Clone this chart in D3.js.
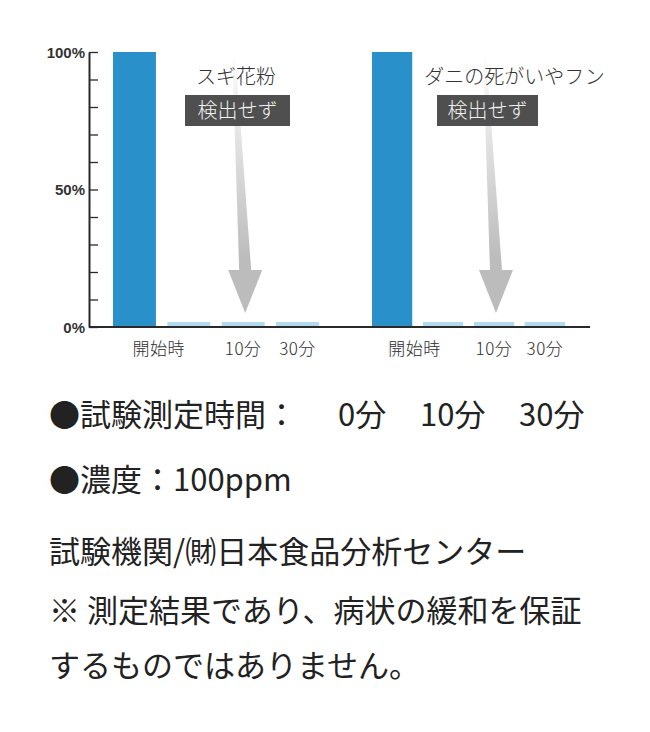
<!DOCTYPE html>
<html><head><meta charset="utf-8">
<script src="https://cdn.jsdelivr.net/npm/d3@7"></script>
<style>
html,body{margin:0;padding:0;background:#fff;}
svg{display:block;}
</style></head>
<body>
<div id="chart"></div>
<script>
// ---- data ----
const barKeys = ["開始時", "0分", "10分", "30分"];
const categoryLabels = ["開始時", "10分", "30分"];
const labelGroups = [["開始時", "0分"], ["10分"], ["30分"]];
const panelTitles = ["スギ花粉", "ダニの死がいやフン"];
const pollenValues = [100, 1.8, 1.8, 1.8];
const miteValues = [100, 1.8, 1.8, 1.8];
const panelValues = [pollenValues, miteValues];
const badgeText = "検出せず";
const yTickValues = [0, 10, 20, 30, 40, 50, 60, 70, 80, 90, 100];
const yTickLabels = ["0%", "50%", "100%"];
const noteLines = [
  "●試験測定時間：",
  "●濃度：100ppm",
  "試験機関/㈶日本食品分析センター",
  "※ 測定結果であり、病状の緩和を保証",
  "するものではありません。"
];
const timeLabels = ["0分", "10分", "30分"];

// ---- layout ----
const W = 650, H = 732;
const svg = d3.select("#chart").append("svg").attr("width", W).attr("height", H);
const JP = "'Noto Sans CJK JP','Noto Sans',sans-serif";

const y = d3.scaleLinear().domain([0, 100]).range([327, 52]);
const panelRanges = [[113, 319], [372, 565]];
const titleX = [236, 514.5];
const badgeBox = [[185, 290], [437, 538]];

const defs = svg.append("defs");
const grad = defs.append("linearGradient").attr("id", "arrowGrad")
  .attr("gradientUnits", "userSpaceOnUse").attr("x1", 0).attr("x2", 0)
  .attr("y1", y(100)).attr("y2", y(25));
grad.append("stop").attr("offset", 0).attr("stop-color", "#ffffff");
grad.append("stop").attr("offset", 1).attr("stop-color", "#bcbcbc");

panelValues.forEach((vals, p) => {
  const x = d3.scaleBand().domain(barKeys).range(panelRanges[p]).paddingInner(0.21).paddingOuter(0);
  const g = svg.append("g");

  // arrow (behind)
  const tx = x("10分") + x.bandwidth() / 2 + 2;
  const ty = y(0) - 14;
  const headY = ty - 43;
  const topY = y(100);
  const arrowPts = [
    [tx - 13, topY], [tx - 10, topY], [tx + 6, headY], [tx + 17, headY],
    [tx, ty], [tx - 17, headY], [tx - 6, headY]
  ];
  g.append("path").attr("d", d3.line()(arrowPts) + "Z").attr("fill", "url(#arrowGrad)");

  // bars
  g.selectAll("rect.bar").data(vals).join("rect").attr("class", "bar")
    .attr("x", (d, i) => x(barKeys[i]))
    .attr("width", x.bandwidth())
    .attr("y", d => y(d))
    .attr("height", d => y(0) - y(d))
    .attr("fill", (d, i) => i === 0 ? "#2990ca" : "#b2daee");

  // category labels
  g.selectAll("text.cat").data(categoryLabels).join("text").attr("class", "cat")
    .attr("x", (d, i) => d3.mean(labelGroups[i], k => x(k) + x.bandwidth() / 2) - (i === 0 ? 3 : 0))
    .attr("y", 354.5)
    .attr("text-anchor", "middle")
    .attr("font-family", JP).attr("font-size", 17).attr("font-weight", 300)
    .attr("letter-spacing", 0.5)
    .attr("fill", "#2e2e2e").text(d => d);

  // title
  g.append("text").attr("x", titleX[p]).attr("y", 83.5).attr("text-anchor", "middle")
    .attr("font-family", JP).attr("font-size", 20).attr("font-weight", 300)
    .attr("fill", "#333").text(panelTitles[p]);

  // badge
  const [bx0, bx1] = badgeBox[p];
  g.append("rect").attr("x", bx0).attr("y", 95).attr("width", bx1 - bx0).attr("height", 31)
    .attr("fill", "#4f4f4f");
  g.append("text").attr("x", (bx0 + bx1) / 2).attr("y", 118).attr("text-anchor", "middle")
    .attr("font-family", JP).attr("font-size", 20).attr("font-weight", 300)
    .attr("fill", "#f2f2f2").text(badgeText);
});

// baseline
svg.append("line").attr("x1", 89).attr("x2", 590).attr("y1", y(0)).attr("y2", y(0))
  .attr("stroke", "#2a2a2a").attr("stroke-width", 2);

// y axis
const yAxis = d3.axisLeft(y).tickValues(yTickValues).tickSizeInner(-9).tickSizeOuter(0).tickPadding(4)
  .tickFormat(d => (d % 50 === 0 ? yTickLabels[d / 50] : ""));
const ag = svg.append("g").attr("transform", "translate(89,0)").call(yAxis);
ag.select(".domain").attr("stroke", "#2a2a2a").attr("stroke-width", 2);
ag.selectAll(".tick line").attr("stroke", "#2a2a2a").attr("stroke-width", 1.3);
ag.selectAll(".tick text").attr("font-family", "'Liberation Sans',Arial,sans-serif")
  .attr("font-size", 15).attr("font-weight", "bold").attr("fill", "#333").attr("dy", "0.35em");

// notes
const noteY = [425.5, 490.5, 562.5, 621.5, 676.5];
const notes = svg.append("g").attr("font-family", JP).attr("font-size", 31).attr("fill", "#222");
notes.selectAll("text.note").data(noteLines).join("text").attr("class", "note")
  .attr("x", 49).attr("y", (d, i) => noteY[i]).text(d => d);
const timeX = [338, 420, 519];
notes.selectAll("text.time").data(timeLabels).join("text").attr("class", "time")
  .attr("x", (d, i) => timeX[i]).attr("y", noteY[0]).text(d => d);
</script>
</body></html>
